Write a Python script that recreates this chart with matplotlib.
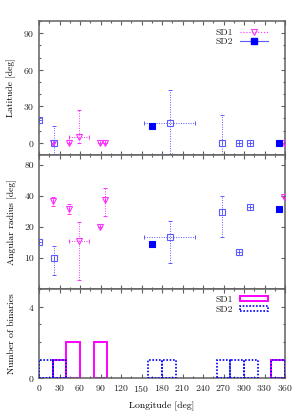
import numpy as np
import matplotlib
matplotlib.use("Agg")
import matplotlib.pyplot as plt
from matplotlib.lines import Line2D
from matplotlib.patches import Patch
from matplotlib.ticker import MultipleLocator, FixedLocator, NullLocator, NullFormatter

plt.rcParams['font.family'] = ['cmr10', 'DejaVu Serif']
plt.rcParams['mathtext.fontset'] = 'cm'
plt.rcParams['axes.unicode_minus'] = False
plt.rcParams['axes.formatter.use_mathtext'] = True

# ---------------- data ----------------
# SD1 binaries
lon1 = [21, 44, 58, 89, 96, 358]
lon1_err_lo = [0, 0, 14, 0, 0, 0]
lon1_err_hi = [0, 0, 15.6, 0, 0, 0]
lat1 = [0, 0, 5, 0, 0, 0]
lat1_err_lo = [0, 0, 5, 0, 0, 0]
lat1_err_hi = [0, 0, 22, 0, 0, 0]
rad1 = [35.5, 29.9, 14.5, 20, 36.8, 39]
rad1_err_lo = [3.3, 3.4, 8.4, 0, 11, 0]
rad1_err_hi = [3.5, 3.8, 8.0, 0, 11, 0]

# SD2 binaries
lon2 = [0, 22, 166, 191, 268, 292, 309, 351]
filled2 = [False, False, True, False, False, False, False, True]
lon2_err = [0, 0, 0, 37, 0, 0, 0, 0]
lat2 = [18.5, 0, 14, 16, 0, 0, 0, 0]
lat2_err = [0, 14, 0, 27, 23, 0, 0, 0]
rad2 = [14.2, 9.9, 13.7, 15.9, 27.7, 11.5, 31.5, 29.7]
rad2_err_lo = [0, 3.0, 0, 7.0, 11.7, 0, 0, 0]
rad2_err_hi = [0, 3.1, 0, 7.1, 12.6, 0, 0, 0]

bin_edges = np.arange(0, 361, 20)
x_ticks = list(range(0, 361, 30))

C1 = '#ff33ff'
C1H = '#ff00ff'
C2 = '#0000ff'
C2L = '#5a5aff'
FRAME = '#606060'
FS = 7

fig = plt.figure(figsize=(3.0, 4.2), dpi=100)
ax1 = fig.add_axes([0.13, 0.631, 0.82, 0.319])
ax2 = fig.add_axes([0.13, 0.312, 0.82, 0.319])
ax3 = fig.add_axes([0.13, 0.1007, 0.82, 0.2113])


def style_axis(ax):
    for s in ax.spines.values():
        s.set_color(FRAME)
        s.set_linewidth(1.1)
    ax.tick_params(which='both', direction='in', top=True, right=True,
                   colors=FRAME, labelcolor='#222222', labelsize=FS, width=0.8)
    ax.tick_params(which='major', length=3.2)
    ax.tick_params(which='minor', length=1.6)
    ax.set_xlim(0, 360)
    ax.xaxis.set_major_locator(FixedLocator(x_ticks))
    ax.xaxis.set_minor_locator(MultipleLocator(15))


def draw_eb(ax, x, y, xlo, xhi, ylo, yhi, color, marker, mfc, ms):
    eb = ax.errorbar(x, y, xerr=[xlo, xhi], yerr=[ylo, yhi], fmt='none',
                     ecolor=color, elinewidth=0.7, capsize=1.6, capthick=0.7,
                     zorder=2)
    for lc in eb[2]:
        lc.set_linestyle((0, (1, 1.5)))
    ax.plot(x, y, linestyle='none', marker=marker, color=color, mfc=mfc,
            mec=color, ms=ms, mew=0.8, zorder=3, clip_on=True)


def plot_sd2(ax, yvals, ylo, yhi):
    x = np.array(lon2, float)
    y = np.array(yvals, float)
    f = np.array(filled2)
    xe = np.array(lon2_err, float)
    ylo = np.array(ylo, float)
    yhi = np.array(yhi, float)
    op = ~f
    draw_eb(ax, x[op], y[op], xe[op], xe[op], ylo[op], yhi[op], C2L, 's', 'none', 4.2)
    draw_eb(ax, x[f], y[f], xe[f], xe[f], ylo[f], yhi[f], C2, 's', C2, 4.2)


# ---- panel 1: latitude ----
style_axis(ax1)
draw_eb(ax1, lon1, lat1, lon1_err_lo, lon1_err_hi, lat1_err_lo, lat1_err_hi,
        C1, 'v', 'none', 5)
plot_sd2(ax1, lat2, lat2_err, lat2_err)
ax1.set_ylim(-10, 100)
ax1.yaxis.set_major_locator(FixedLocator([0, 30, 60, 90]))
ax1.yaxis.set_minor_locator(MultipleLocator(10))
ax1.tick_params(labelbottom=False)
ax1.set_ylabel('Latitude [deg]', fontsize=FS, labelpad=5)
h1 = [Line2D([], [], color=C1, linestyle=':', lw=0.8, marker='v', mfc='none',
             mec=C1, ms=5, mew=0.8),
      Line2D([], [], color=C2L, linestyle='-', lw=0.8, marker='s', mfc=C2,
             mec=C2, ms=4.2)]
leg1 = ax1.legend(h1, ['SD1', 'SD2'], loc='upper right', frameon=False,
                  fontsize=FS, markerfirst=False, handlelength=2.9,
                  handletextpad=0.7, labelspacing=0.05,
                  borderaxespad=0.2, bbox_to_anchor=(0.955, 0.99))
for t in leg1.get_texts():
    t.set_color('#222222')

# ---- panel 2: angular radius ----
style_axis(ax2)
ax2.set_yscale('log')
draw_eb(ax2, lon1, rad1, lon1_err_lo, lon1_err_hi, rad1_err_lo, rad1_err_hi,
        C1, 'v', 'none', 5)
plot_sd2(ax2, rad2, rad2_err_lo, rad2_err_hi)
ax2.set_ylim(5, 100)
ax2.yaxis.set_major_locator(FixedLocator([10, 20, 40, 80]))
ax2.yaxis.set_major_formatter(matplotlib.ticker.FixedFormatter(['10', '20', '40', '80']))
ax2.yaxis.set_minor_locator(NullLocator())
ax2.yaxis.set_minor_formatter(NullFormatter())
ax2.tick_params(labelbottom=False)
ax2.set_ylabel('Angular radius [deg]', fontsize=FS, labelpad=5)

# ---- panel 3: histogram ----
style_axis(ax3)
cnt1, _ = np.histogram(lon1, bins=bin_edges)
cnt2, _ = np.histogram(lon2, bins=bin_edges)
left = bin_edges[:-1]
m1 = cnt1 > 0
m2 = cnt2 > 0
ax3.bar(left[m1], cnt1[m1], width=20, align='edge', fill=False,
        edgecolor=C1H, linewidth=1.4, zorder=2)
ax3.bar(left[m2], cnt2[m2], width=20, align='edge', fill=False,
        edgecolor=C2, linewidth=1.2, linestyle=(0, (1, 1)), zorder=3)
ax3.set_ylim(0, 5)
ax3.yaxis.set_major_locator(FixedLocator([0, 4]))
ax3.yaxis.set_minor_locator(MultipleLocator(1))
ax3.set_ylabel('Number of binaries', fontsize=FS, labelpad=8)
ax3.set_xlabel('Longitude [deg]', fontsize=FS, labelpad=6)
h3 = [Patch(facecolor='none', edgecolor=C1H, linewidth=1.4),
      Patch(facecolor='none', edgecolor=C2, linewidth=1.2, linestyle=(0, (1, 1)))]
leg3 = ax3.legend(h3, ['SD1', 'SD2'], loc='upper right', frameon=False,
                  fontsize=FS, markerfirst=False, handlelength=2.9,
                  handleheight=0.5, handletextpad=0.7, labelspacing=0.15,
                  borderaxespad=0.2, bbox_to_anchor=(0.955, 0.99))
for t in leg3.get_texts():
    t.set_color('#222222')

fig.savefig('out.png', dpi=100)
